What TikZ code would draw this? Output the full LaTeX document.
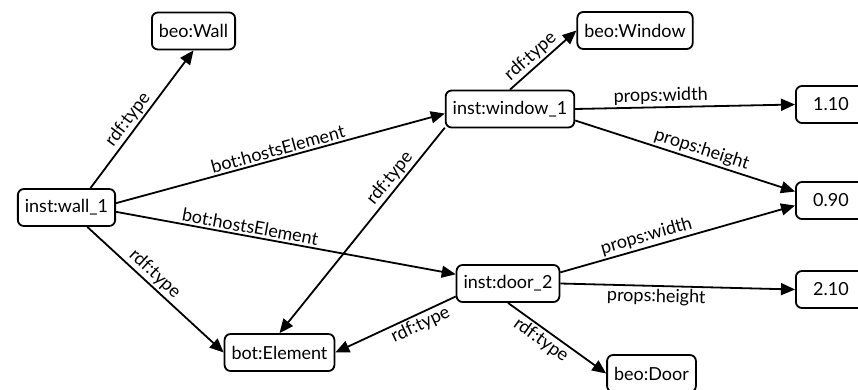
\documentclass[tikz,border=0pt]{standalone}
\usepackage{fontspec}
\setmainfont{Lato}
\usetikzlibrary{arrows.meta, positioning}

\begin{document}
\begin{tikzpicture}
  [
    x=1pt, y=-1pt,
    Res/.style={rectangle, rounded corners=6pt, draw=black, line width=1.8pt, minimum height=37pt, inner xsep=7pt, font=\fontsize{18}{21}\selectfont},
    Lit/.style={Res, minimum width=70pt, anchor=west},
    Rel/.style={-{Triangle[length=14pt, width=12pt]}, draw, line width=1.8pt},
    Lbl/.style={sloped, font=\fontsize{18}{21}\selectfont, inner sep=2pt}
  ]
  \useasboundingbox (0,0) rectangle (858,390);
  \clip (0,0) rectangle (858,390);
  % Nodes
  \node[Res] (wall1) at (66.5, 207.5) {inst:wall\_1};
  \node[Res] (wall) at (193.5, 31) {beo:Wall};
  \node[Res] (element) at (279.5, 352.5) {bot:Element};
  \node[Res] (window1) at (510, 109) {inst:window\_1};
  \node[Res] (window) at (635, 30.5) {beo:Window};
  \node[Res] (door2) at (508, 283.5) {inst:door\_2};
  \node[Res] (door) at (651.5, 373.5) {beo:Door};
  \node[Lit] (v110) at (795, 104.5) {1.10};
  \node[Lit] (v090) at (795, 200.5) {0.90};
  \node[Lit] (v210) at (795, 289.5) {2.10};
  % Lines
  \path [Rel] (wall1.39) -- node[Lbl, pos=0.45, above] {rdf:type} (wall.south);
  \path [Rel] (wall1.5) -- node[Lbl, pos=0.5, above] {bot:hostsElement} (window1.184);
  \path [Rel] (wall1.-5) -- node[Lbl, pos=0.39, above] {bot:hostsElement} (door2.170);
  \path [Rel] (wall1.-43) -- node[Lbl, pos=0.44, above] {rdf:type} (element.west);
  \path [Rel] (window1.196) -- node[Lbl, pos=0.28, above] {rdf:type} (element.north);
  \path [Rel] (window1.north) -- node[Lbl, pos=0.42, above] {rdf:type} (window.west);
  \path [Rel] (window1.east) -- node[Lbl, pos=0.39, above] {props:width} (v110.west);
  \path [Rel] (window1.-10) -- node[Lbl, pos=0.56, above] {props:height} (v090.166);
  \path [Rel] (door2.12) -- node[Lbl, pos=0.38, above] {props:width} (v090.188);
  \path [Rel] (door2.east) -- node[Lbl, pos=0.41, below] {props:height} (v210.west);
  \path [Rel] (door2.194) -- node[Lbl, pos=0.33, below] {rdf:type} (element.east);
  \path [Rel] (door2.south) -- node[Lbl, pos=0.4, below] {rdf:type} (door.west);
\end{tikzpicture}
\end{document}
